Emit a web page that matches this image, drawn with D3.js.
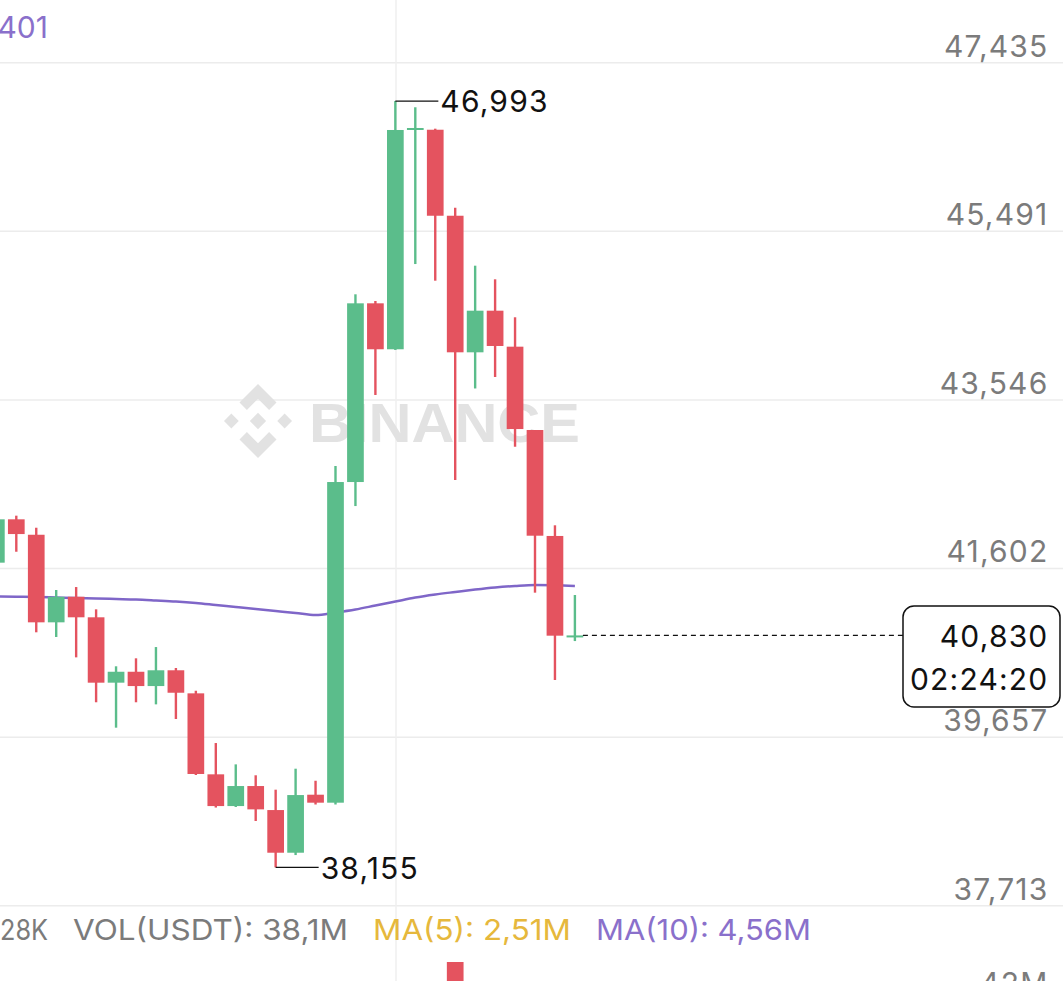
<!DOCTYPE html>
<html><head><meta charset="utf-8">
<script src="https://cdn.jsdelivr.net/npm/d3@7/dist/d3.min.js"></script>
<style>html,body{margin:0;padding:0;background:#fff;}svg{display:block;}</style>
</head><body><svg id="c" width="1063" height="981"></svg>
<script>
const opens  = [41669,42169,41991,40981,41276,41039,40285,40411,40246,40428,40162,39228,38862,39093,38816,38324,38993,38901,42599,44660,44130,46659,46662,45670,44095,44575,44160,43199,41977,40827];
const highs  = [42195,42211,42072,41354,41388,41131,40474,40566,40696,40454,40192,39589,39343,39217,39051,39293,39154,42784,44764,44687,46993,46921,46674,45763,45094,44937,44499,43199,42100,41296];
const lows   = [41642,41795,40866,40812,40577,40059,39766,40059,40035,39866,39220,38845,38851,38690,38155,38297,38880,38880,42322,43603,44122,45113,44921,42622,43678,43810,43006,41323,40316,40765];
const closes = [42169,41999,40981,41276,41039,40285,40411,40246,40428,40169,39232,38862,39093,38824,38324,38989,38901,42599,44660,44130,46659,46682,45670,44095,44575,44168,43210,41980,40827,40830];
const maLine = [41279,41276,41273,41267,41261,41256,41250,41244,41233,41221,41204,41181,41158,41135,41112,41089,41065,41094,41129,41175,41221,41267,41302,41331,41359,41383,41400,41411,41408,41400];
const volumes = [18e6,12e6,30e6,14e6,16e6,26e6,10e6,9e6,11e6,12e6,28e6,20e6,13e6,15e6,24e6,22e6,8e6,40e6,38e6,26e6,42e6,30e6,34e6,47e6,22e6,18e6,28e6,36e6,35e6,3e6];
const priceTicks = [47435,45491,43546,41602,39657,37713];
const volTicks = [42e6];
const legendItems = ["28K", "VOL(USDT): 38,1M", "MA(5): 2,51M", "MA(10): 4,56M"];
const highLabel = 46993, lowLabel = 38155, lastPrice = 40830, countdown = "02:24:20";

const W = 1063, H = 981;
const svg = d3.select("#c");
const GREEN = "#5bbd8b", RED = "#e4535f", PURPLE = "#7f66c8";
const FONT = "Inter, 'Noto Sans', sans-serif";

const x = d3.scaleLinear().domain([0, opens.length - 1]).range([-3.65, 574.9]);
const y = d3.scaleLinear().domain([37713, 47435]).range([905.7, 62.7]);
const yv = d3.scaleLinear().domain([0, 47e6]).range([1300, 962]);

svg.append("rect").attr("width", W).attr("height", H).attr("fill", "#fff");

// grid lines
svg.append("g").selectAll("line").data(priceTicks).join("line")
  .attr("x1", 0).attr("x2", W).attr("y1", d => y(d)).attr("y2", d => y(d))
  .attr("stroke", "#ececec").attr("stroke-width", 1.5);
svg.append("line").attr("x1", 396).attr("x2", 396).attr("y1", 0).attr("y2", H)
  .attr("stroke", "#efefef").attr("stroke-width", 1.5);

// watermark
const wm = svg.append("g").attr("fill", "#e2e2e2");
const lg = wm.append("g").attr("transform", "translate(258,421) scale(37)");
const polys = [
  [[0,-0.22],[0.22,0],[0,0.22],[-0.22,0]],
  [[-0.72,-0.2],[-0.52,0],[-0.72,0.2],[-0.92,0]],
  [[0.72,-0.2],[0.92,0],[0.72,0.2],[0.52,0]],
  [[0,-1],[0.5,-0.5],[0.3,-0.3],[0,-0.6],[-0.3,-0.3],[-0.5,-0.5]],
  [[0,1],[0.5,0.5],[0.3,0.3],[0,0.6],[-0.3,0.3],[-0.5,0.5]]
];
lg.selectAll("polygon").data(polys).join("polygon").attr("points", d => d.map(p => p.join(",")).join(" "));
wm.append("text").attr("x", 309).attr("y", 442).attr("font-family", "'Liberation Sans', Arial, sans-serif")
  .attr("font-weight", "bold").attr("font-size", 55).attr("textLength", 271).attr("lengthAdjust", "spacingAndGlyphs")
  .text("BINANCE");

// MA line
svg.append("path").datum(maLine)
  .attr("d", d3.line().x((d, i) => x(i)).y(d => y(d)).curve(d3.curveMonotoneX))
  .attr("fill", "none").attr("stroke", PURPLE).attr("stroke-width", 2.5);

// candles
const idx = d3.range(opens.length);
const bw = 16.7;
const cg = svg.append("g");
cg.selectAll(".wick").data(idx).join("line")
  .attr("x1", i => x(i)).attr("x2", i => x(i))
  .attr("y1", i => y(highs[i])).attr("y2", i => y(lows[i]))
  .attr("stroke", i => closes[i] >= opens[i] ? GREEN : RED).attr("stroke-width", 2.4);
cg.selectAll(".body").data(idx).join("rect")
  .attr("x", i => x(i) - bw / 2).attr("width", bw)
  .attr("y", i => y(Math.max(opens[i], closes[i])))
  .attr("height", i => Math.max(2, Math.abs(y(opens[i]) - y(closes[i]))))
  .attr("fill", i => closes[i] >= opens[i] ? GREEN : RED);

// high / low annotations
const hi = highs.indexOf(highLabel), lo = lows.indexOf(lowLabel);
const fmt = d3.format(",");
const TXT = sel => sel.attr("font-family", FONT).attr("font-size", 30).attr("letter-spacing", 1.2);
svg.append("line").attr("x1", x(hi)).attr("x2", x(hi) + 43).attr("y1", y(highLabel)).attr("y2", y(highLabel)).attr("stroke", "#111").attr("stroke-width", 1.3);
svg.append("text").attr("x", x(hi) + 45).attr("y", y(highLabel) + 11).call(TXT).attr("fill", "#111").text(fmt(highLabel));
svg.append("line").attr("x1", x(lo)).attr("x2", x(lo) + 43).attr("y1", y(lowLabel)).attr("y2", y(lowLabel)).attr("stroke", "#111").attr("stroke-width", 1.3);
svg.append("text").attr("x", x(lo) + 45).attr("y", y(lowLabel) + 12).call(TXT).attr("fill", "#111").text(fmt(lowLabel));

// price axis labels
svg.append("g").selectAll("text").data(priceTicks).join("text")
  .attr("x", 1048.5).attr("y", d => y(d) - 6).attr("text-anchor", "end")
  .call(TXT).attr("fill", "#7b7b7b").text(d => fmt(d));

// current price line + box
const ly = y(lastPrice);
svg.append("line").attr("x1", x(opens.length - 1) + 8).attr("x2", 903).attr("y1", ly).attr("y2", ly)
  .attr("stroke", "#111").attr("stroke-width", 1.2).attr("stroke-dasharray", "5,4");
svg.append("rect").attr("x", 903).attr("y", 606).attr("width", 157).attr("height", 101).attr("rx", 11)
  .attr("fill", "#fff").attr("stroke", "#111").attr("stroke-width", 1.5);
svg.append("text").attr("x", 1048.5).attr("y", 647).attr("text-anchor", "end").call(TXT).attr("fill", "#111").text(fmt(lastPrice));
svg.append("text").attr("x", 1048.5).attr("y", 690).attr("text-anchor", "end").call(TXT).attr("fill", "#111").text(countdown);

// top-left partial legend
svg.append("text").attr("x", 48).attr("y", 38).attr("text-anchor", "end").attr("font-family", FONT).attr("font-size", 30).attr("fill", "#8a70cb").text("401");

// volume legend
const legX = [0, 73, 373, 596], legW = [48, 275, 198, 215];
const legC = ["#7b7b7b", "#7b7b7b", "#e6b83c", "#8a70cb"];
svg.append("g").selectAll("text").data(legendItems).join("text")
  .attr("x", (d, i) => legX[i]).attr("y", 940)
  .attr("font-family", FONT).attr("font-size", 29)
  .attr("textLength", (d, i) => legW[i]).attr("lengthAdjust", "spacingAndGlyphs")
  .attr("fill", (d, i) => legC[i]).text(d => d);

// volume bars
svg.append("g").selectAll("rect").data(idx).join("rect")
  .attr("x", i => x(i) - bw / 2).attr("width", bw)
  .attr("y", i => yv(volumes[i])).attr("height", i => yv(0) - yv(volumes[i]))
  .attr("fill", i => closes[i] >= opens[i] ? GREEN : RED);
svg.append("g").selectAll("text").data(volTicks).join("text")
  .attr("x", 1048.5).attr("y", d => yv(d) - 4).attr("text-anchor", "end")
  .call(TXT).attr("fill", "#7b7b7b").text(d => Math.round(d / 1e6) + "M");
</script></body></html>
